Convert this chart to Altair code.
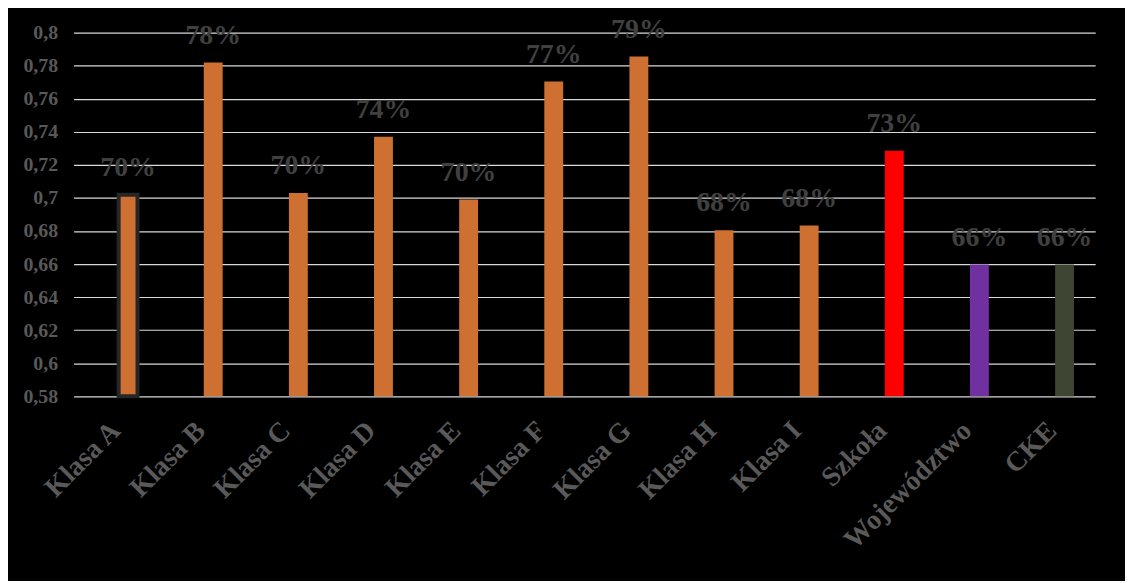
import altair as alt
import pandas as pd

categories = ["Klasa A", "Klasa B", "Klasa C", "Klasa D", "Klasa E", "Klasa F",
              "Klasa G", "Klasa H", "Klasa I", "Szkoła", "Województwo", "CKE"]
values = [0.702, 0.782, 0.703, 0.737, 0.699, 0.7705, 0.7856, 0.6804, 0.6834, 0.7285, 0.6598, 0.6598]
colors = ["#CD7031"] * 9 + ["#FF0000", "#7030A0", "#3E4532"]
outlined = [True] + [False] * 11
y_ticks = [0.58, 0.6, 0.62, 0.64, 0.66, 0.68, 0.7, 0.72, 0.74, 0.76, 0.78, 0.8]

df = pd.DataFrame({"cat": categories, "val": values, "col": colors, "outl": outlined})

x_enc = alt.X("cat:N", sort=None, title=None,
              axis=alt.Axis(labelAngle=-45, labelFont="Liberation Serif", labelFontWeight="bold",
                            labelFontSize=28, labelColor="#595959", ticks=False, domain=False,
                            labelPadding=30, labelOffset=0, labelAlign="right",
                            labelBaseline="middle", labelOverlap=False),
              scale=alt.Scale(paddingInner=0, paddingOuter=0))
y_scale = alt.Scale(domain=[0.58, 0.8], nice=False, zero=False)
y_enc = alt.Y("val:Q", title=None, scale=y_scale,
              axis=alt.Axis(values=y_ticks, tickCount=12, labelOverlap=False,
                            labelExpr="replace(format(datum.value, '.2~f'), '.', ',')",
                            labelFont="Liberation Serif", labelFontWeight="bold", labelFontSize=20,
                            labelColor="#595959", ticks=False, domain=False, labelPadding=16,
                            grid=True, gridColor="#D9D9D9", gridWidth=1.2))

bars = alt.Chart(df).mark_bar(size=19, xOffset=12).encode(
    x=x_enc,
    y=y_enc,
    y2=alt.datum(0.58),
    color=alt.Color("col:N", scale=None, legend=None),
    stroke=alt.condition("datum.outl", alt.value("#262626"), alt.value(None)),
    strokeWidth=alt.condition("datum.outl", alt.value(4), alt.value(0)),
)

labels = alt.Chart(df).mark_text(font="Liberation Serif", fontWeight="bold", fontSize=28,
                                 color="#404040", baseline="bottom", dy=-13, dx=12).encode(
    x=alt.X("cat:N", sort=None),
    y=alt.Y("val:Q"),
    text=alt.Text("val:Q", format=".0%"),
)

chart = alt.layer(bars, labels).properties(
    width=1028, height=366,
    background="#000000",
    padding={"left": 66, "top": 23, "right": 30, "bottom": 184},
    autosize=alt.AutoSizeParams(type="none"),
).configure_view(stroke=None)

chart.save("out.html", embed_options={"renderer": "svg", "actions": False})
